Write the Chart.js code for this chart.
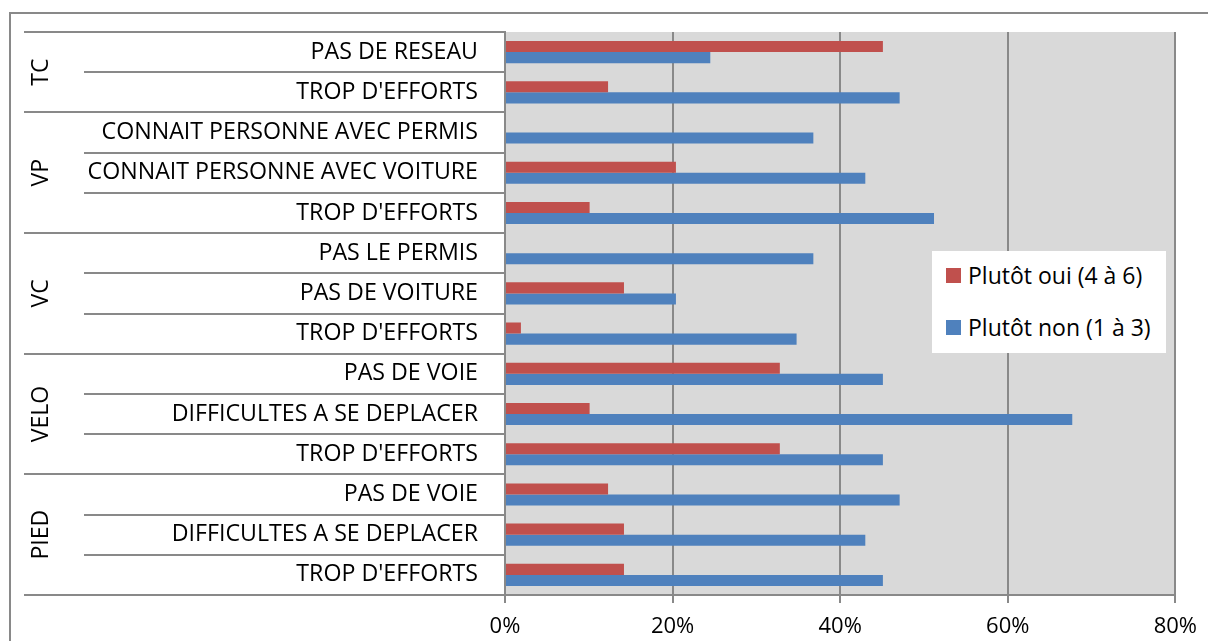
<!DOCTYPE html>
<html>
<head>
<meta charset="utf-8">
<script src="https://cdn.jsdelivr.net/npm/chart.js@4"></script>
<style>
  body { margin: 0; background: #fff; }
  #boite { position: relative; width: 1208px; height: 641px; overflow: hidden; }
  #legende {
    position: absolute; left: 932px; top: 251px; width: 234px; height: 102px;
    background: #fff; font-family: "Open Sans", sans-serif; font-size: 23px; color: #000;
  }
  .item { position: absolute; left: 14px; display: flex; align-items: center; white-space: nowrap; }
  .carre { width: 15px; height: 15px; margin-right: 7px; }
</style>
</head>
<body>
<div id="boite">
  <canvas id="graphique" width="1208" height="641"></canvas>
  <div id="legende"></div>
</div>
<script>
// groupes (niveau 1) et leurs tailles, de haut en bas
const groupes = ["TC", "VP", "VC", "VELO", "PIED"];
const taillesGroupes = [2, 3, 3, 3, 3];

// sous-catégories (niveau 2)
const categories = [
  "PAS DE RESEAU", "TROP D'EFFORTS",
  "CONNAIT PERSONNE AVEC PERMIS", "CONNAIT PERSONNE AVEC VOITURE", "TROP D'EFFORTS",
  "PAS LE PERMIS", "PAS DE VOITURE", "TROP D'EFFORTS",
  "PAS DE VOIE", "DIFFICULTES A SE DEPLACER", "TROP D'EFFORTS",
  "PAS DE VOIE", "DIFFICULTES A SE DEPLACER", "TROP D'EFFORTS"
];

// séries en %
const plutotOui = [45.1, 12.3, 0, 20.4, 10.1, 0, 14.2, 1.9, 32.8, 10.1, 32.8, 12.3, 14.2, 14.2];
const plutotNon = [24.5, 47.1, 36.8, 43.0, 51.2, 36.8, 20.4, 34.8, 45.1, 67.7, 45.1, 47.1, 43.0, 45.1];

const nomsSeries = ["Plutôt oui (4 à 6)", "Plutôt non (1 à 3)"];
const couleurs = ["#C0504D", "#4F81BD"];

const GRIS = "#898989";
const POLICE = "'Open Sans', sans-serif";

// fond, cadre, séparateurs et libellés de groupe
const decor = {
  id: "decor",
  beforeDraw(chart) {
    const { ctx, chartArea: a } = chart;
    ctx.save();
    ctx.fillStyle = "#fff";
    ctx.fillRect(0, 0, chart.width, chart.height);
    ctx.strokeStyle = GRIS;
    ctx.lineWidth = 2;
    ctx.beginPath();
    ctx.moveTo(10, chart.height + 5);
    ctx.lineTo(10, 13);
    ctx.lineTo(chart.width + 5, 13);
    ctx.stroke();
    ctx.fillStyle = "#d9d9d9";
    ctx.fillRect(a.left, a.top, a.right - a.left, a.bottom - a.top);
    ctx.restore();
  },
  afterDraw(chart) {
    const { ctx, chartArea: a } = chart;
    const y = chart.scales.y;
    ctx.save();
    ctx.strokeStyle = GRIS;
    ctx.lineWidth = 2;
    const limites = [0];
    taillesGroupes.forEach((t, i) => limites.push(limites[i] + t));
    for (let i = 0; i <= categories.length; i++) {
      const py = Math.round(y.getPixelForValue(i - 0.5));
      const x0 = limites.includes(i) ? 24 : 84;
      ctx.beginPath();
      ctx.moveTo(x0, py);
      ctx.lineTo(a.left, py);
      ctx.stroke();
    }
    ctx.fillStyle = "#000";
    ctx.font = "23px " + POLICE;
    ctx.textAlign = "center";
    ctx.textBaseline = "middle";
    groupes.forEach((g, i) => {
      const cy = (y.getPixelForValue(limites[i] - 0.5) + y.getPixelForValue(limites[i + 1] - 0.5)) / 2;
      ctx.save();
      ctx.translate(41, cy);
      ctx.rotate(-Math.PI / 2);
      ctx.fillText(g, 0, 0);
      ctx.restore();
    });
    ctx.restore();
  }
};

const graphique = new Chart(document.getElementById("graphique"), {
  type: "bar",
  data: {
    labels: categories,
    datasets: [
      { label: nomsSeries[0], data: plutotOui, backgroundColor: couleurs[0], borderWidth: 0 },
      { label: nomsSeries[1], data: plutotNon, backgroundColor: couleurs[1], borderWidth: 0 }
    ]
  },
  options: {
    indexAxis: "y",
    responsive: false,
    animation: false,
    layout: { padding: { left: 0, top: 32, right: 32, bottom: 0 } },
    datasets: { bar: { categoryPercentage: 0.55, barPercentage: 1 } },
    scales: {
      x: {
        min: 0,
        max: 80,
        ticks: {
          stepSize: 20,
          callback: v => v + "%",
          color: "#000",
          font: { family: POLICE, size: 22 },
          padding: 11
        },
        grid: { color: GRIS, lineWidth: 2, tickLength: 8 },
        border: { color: GRIS, width: 2 },
        afterFit: s => { s.height = 46; }
      },
      y: {
        ticks: {
          color: "#000",
          font: { family: POLICE, size: 23.2 },
          padding: 27,
          autoSkip: false
        },
        grid: { display: false, drawTicks: false },
        border: { color: GRIS, width: 2 },
        afterFit: s => { s.width = 505; s.paddingTop = 0; s.paddingBottom = 0; }
      }
    },
    plugins: {
      legend: { display: false },
      tooltip: { enabled: false }
    }
  },
  plugins: [decor]
});

// légende maison, placée dans la zone de tracé
const legende = document.getElementById("legende");
graphique.data.datasets.forEach((d, i) => {
  const item = document.createElement("div");
  item.className = "item";
  item.style.top = (i === 0 ? 8 : 60) + "px";
  item.innerHTML = '<span class="carre" style="background:' + d.backgroundColor + '"></span>' + d.label;
  legende.appendChild(item);
});
</script>
</body>
</html>
